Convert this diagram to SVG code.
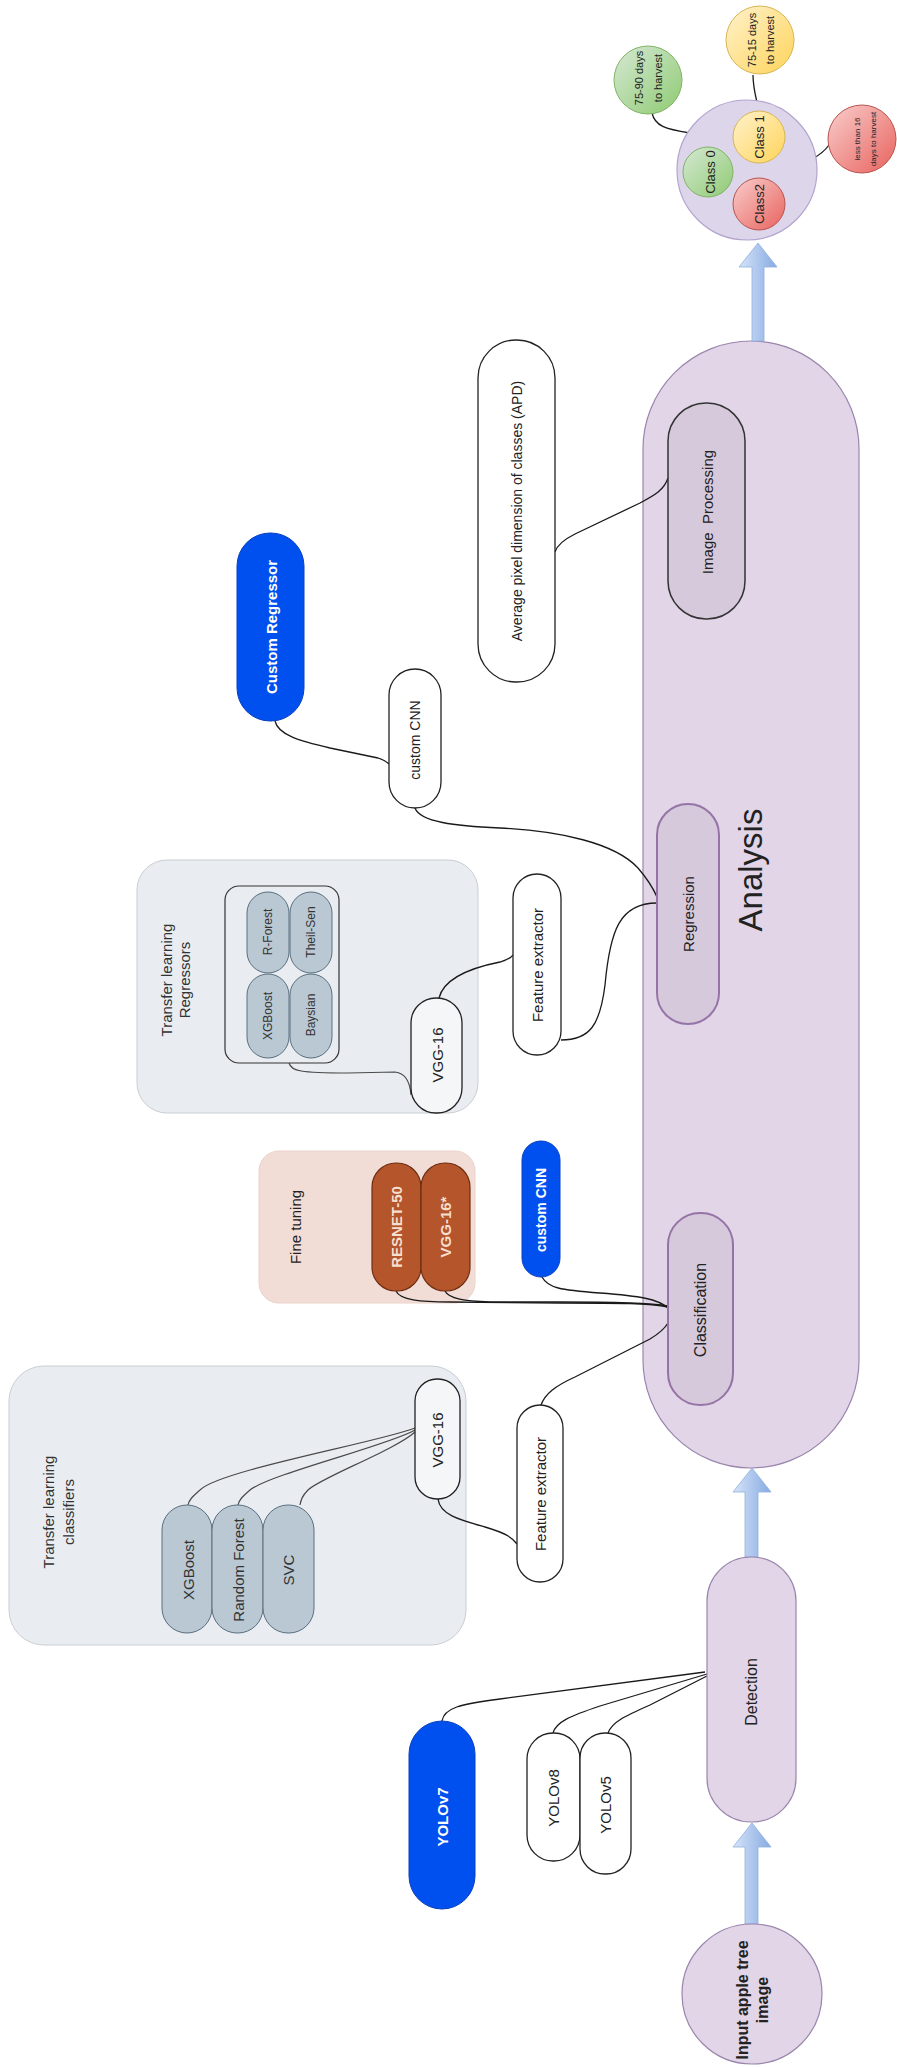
<svg xmlns="http://www.w3.org/2000/svg" width="897" height="2067" viewBox="0 0 897 2067">
<defs>
<linearGradient id="arr" x1="0" y1="0" x2="1" y2="0"><stop offset="0" stop-color="#d6e4f8"/><stop offset="1" stop-color="#86aae2"/></linearGradient>
<linearGradient id="gG" x1="0" y1="0" x2="1" y2="1"><stop offset="0" stop-color="#d5e8d4"/><stop offset="1" stop-color="#8fcb72"/></linearGradient>
<linearGradient id="gY" x1="0" y1="0" x2="1" y2="1"><stop offset="0" stop-color="#fff2cc"/><stop offset="1" stop-color="#ffd45a"/></linearGradient>
<linearGradient id="gR" x1="0" y1="0" x2="1" y2="1"><stop offset="0" stop-color="#f8cecc"/><stop offset="1" stop-color="#e9625e"/></linearGradient>
<style>
text{font-family:"Liberation Sans",Arial,sans-serif;text-anchor:middle;dominant-baseline:central;fill:#222}
.main{fill:#e1d5e7;stroke:#9a86ad;stroke-width:1.2}
.inner{fill:#d6c9dc;stroke:#9673a6;stroke-width:2}
.white{fill:#fff;stroke:#222;stroke-width:1.3}
.wbox{fill:#f4f6f8;stroke:#222;stroke-width:1.3}
.blue{fill:#0050ef;stroke:#0a3fc0;stroke-width:1}
.bt{fill:#fff;font-weight:bold}
.grp{fill:#e9edf1;stroke:#c9ced3;stroke-width:1}
.gp{fill:#bac8d3;stroke:#5a6e7e;stroke-width:1}
.gt{fill:#333}
.brown{fill:#b4552b;stroke:#6e2e12;stroke-width:1.2}
.brt{fill:#f6dfcf;font-weight:bold}
.arrow{fill:url(#arr);stroke:#8fb0de;stroke-width:0.8}
.c{fill:none;stroke:#1a1a1a;stroke-width:1.3}
.cg{fill:none;stroke:#4a4a4a;stroke-width:1.2}
</style>
</defs>
<rect width="897" height="2067" fill="#fff"/>

<!-- containers -->
<g id="analysis"><rect class="main" x="643" y="341" width="216" height="1127" rx="108"/>
<text x="750" y="870" font-size="33" transform="rotate(-90 750 870)">Analysis</text></g>
<g id="tl-classifiers"><rect class="grp" x="9" y="1366" width="457" height="279" rx="35"/>
<text class="gt" x="48" y="1512" font-size="15" transform="rotate(-90 48 1512)">Transfer learning</text>
<text class="gt" x="68" y="1512" font-size="15" transform="rotate(-90 68 1512)">classifiers</text></g>
<g id="tl-regressors"><rect class="grp" x="137" y="860" width="341" height="253" rx="30"/>
<text class="gt" x="166" y="980" font-size="15" transform="rotate(-90 166 980)">Transfer learning</text>
<text class="gt" x="184" y="980" font-size="15" transform="rotate(-90 184 980)">Regressors</text></g>
<g id="reg-set"><rect x="225" y="886" width="114" height="177" rx="14" fill="#e9edf1" stroke="#333" stroke-width="1.2"/></g>
<g id="fine-tuning"><rect x="259" y="1151" width="216" height="152" rx="20" fill="#f1ddd6" stroke="#ead2c9" stroke-width="1"/>
<text x="295" y="1227" font-size="15" transform="rotate(-90 295 1227)">Fine tuning</text></g>

<!-- connectors -->
<g id="connectors">
<path class="c" d="M442,1721 C444,1708 460,1704 500,1699 L705,1672"/>
<path class="c" d="M553,1733 C556,1722 570,1716 600,1706 L707,1674"/>
<path class="c" d="M608,1733 C612,1722 625,1716 650,1705 L707,1676"/>
<path class="c" d="M438,1499 C440,1515 460,1520 485,1527 C505,1533 512,1537 517,1544"/>
<path class="c" d="M541,1405 C545,1394 555,1386 575,1377 L650,1339 C660,1333 665,1328 668,1323"/>
<path class="c" d="M396,1291 C400,1300 420,1302 450,1302 L560,1303 C620,1303 650,1303 668,1307"/>
<path class="c" d="M445,1291 C449,1299 465,1301 490,1302 L560,1302 C620,1302 650,1303 668,1306"/>
<path class="c" d="M542,1277 C548,1288 560,1290 600,1293 C640,1296 658,1299 668,1308"/>
<path class="cg" d="M415,1428 C380,1442 220,1470 200,1490 C192,1497 189,1500 188,1505"/>
<path class="cg" d="M415,1430 C390,1445 270,1474 250,1490 C242,1497 239,1500 238,1505"/>
<path class="cg" d="M415,1432 C395,1450 320,1478 308,1490 C302,1496 301,1500 300,1505"/>
<path class="cg" d="M289,1063 C291,1071 300,1073 348,1073 L395,1072 C405,1073 410,1082 411,1095"/>
<path class="c" d="M439,998 C444,978 470,968 500,962 C507,960 511,958 513,955"/>
<path class="c" d="M561,1040 C590,1040 600,1025 605,985 C610,930 620,903 657,903"/>
<path class="c" d="M415,808 C420,822 455,826 500,828 C560,831 615,843 638,868 C650,882 654,890 657,897"/>
<path class="c" d="M275,721 C278,735 300,741 330,748 L378,758 C384,760 387,762 389,764"/>
<path class="c" d="M555,552 C557,545 563,540 575,534 L640,503 C655,495 664,490 668,478"/>
<path class="c" d="M652,113 C655,126 665,129 690,133 C702,136 708,140 710,147"/>
<path class="c" d="M753,75 C753,90 757,100 759,112"/>
<path class="c" d="M829,145 C820,158 800,165 787,170 C780,174 778,178 777,183"/>
<polygon class="arrow" points="745,1924 758,1924 758,1847 771,1847 752,1823 733,1847 745,1847"/>
<polygon class="arrow" points="745,1557 758,1557 758,1492 771,1492 752,1468 733,1492 745,1492"/>
<polygon class="arrow" points="752,341 764,341 764,267 777,267 758,243 739,267 752,267"/>
</g>

<!-- nodes -->
<g id="input"><ellipse class="main" cx="752" cy="1994" rx="70" ry="70"/>
<text x="742" y="2000" font-size="16" font-weight="bold" transform="rotate(-90 742 2000)">Input apple tree</text>
<text x="762" y="2000" font-size="16" font-weight="bold" transform="rotate(-90 762 2000)">image</text></g>
<g id="detection"><rect class="main" x="707" y="1557" width="89" height="265" rx="44"/>
<text x="751" y="1692" font-size="16" transform="rotate(-90 751 1692)">Detection</text></g>
<g id="yolov7"><rect class="blue" x="409" y="1721" width="66" height="188" rx="33"/>
<text class="bt" x="442" y="1817" font-size="15" transform="rotate(-90 442 1817)">YOLOv7</text></g>
<g id="yolov8"><rect class="white" x="527" y="1733" width="53" height="128" rx="26"/>
<text x="553" y="1798" font-size="15" transform="rotate(-90 553 1798)">YOLOv8</text></g>
<g id="yolov5"><rect class="white" x="580" y="1733" width="51" height="141" rx="25"/>
<text x="605" y="1805" font-size="15" transform="rotate(-90 605 1805)">YOLOv5</text></g>

<g id="cls-feature-extractor"><rect class="white" x="517" y="1405" width="46" height="177" rx="23"/>
<text x="540" y="1494" font-size="15" transform="rotate(-90 540 1494)">Feature extractor</text></g>
<g id="cls-vgg16"><rect class="wbox" x="415" y="1379" width="45" height="120" rx="22"/>
<text x="437" y="1440" font-size="15" transform="rotate(-90 437 1440)">VGG-16</text></g>
<g id="cls-xgboost"><rect class="gp" x="162" y="1505" width="50" height="128" rx="25"/>
<text class="gt" x="188" y="1570" font-size="15" transform="rotate(-90 188 1570)">XGBoost</text></g>
<g id="cls-rf"><rect class="gp" x="212" y="1505" width="51" height="128" rx="25"/>
<text class="gt" x="238" y="1570" font-size="15" transform="rotate(-90 238 1570)">Random Forest</text></g>
<g id="cls-svc"><rect class="gp" x="263" y="1505" width="51" height="128" rx="25"/>
<text class="gt" x="288" y="1570" font-size="15" transform="rotate(-90 288 1570)">SVC</text></g>

<g id="classification"><rect class="inner" x="668" y="1213" width="65" height="192" rx="32"/>
<text x="700" y="1310" font-size="16" transform="rotate(-90 700 1310)">Classification</text></g>
<g id="resnet50"><rect class="brown" x="372" y="1163" width="49" height="128" rx="24"/>
<text class="brt" x="396" y="1227" font-size="15" transform="rotate(-90 396 1227)">RESNET-50</text></g>
<g id="vgg16-ft"><rect class="brown" x="421" y="1163" width="49" height="128" rx="24"/>
<text class="brt" x="445" y="1227" font-size="15" transform="rotate(-90 445 1227)">VGG-16*</text></g>
<g id="cls-custom-cnn"><rect class="blue" x="522" y="1141" width="38" height="136" rx="19"/>
<text class="bt" x="541" y="1210" font-size="14" transform="rotate(-90 541 1210)">custom CNN</text></g>

<g id="reg-rforest"><rect class="gp" x="247" y="892" width="42" height="81" rx="21"/>
<text class="gt" x="268" y="932" font-size="12" transform="rotate(-90 268 932)">R-Forest</text></g>
<g id="reg-xgboost"><rect class="gp" x="247" y="974" width="42" height="84" rx="21"/>
<text class="gt" x="268" y="1016" font-size="12" transform="rotate(-90 268 1016)">XGBoost</text></g>
<g id="reg-theilsen"><rect class="gp" x="290" y="892" width="42" height="81" rx="21"/>
<text class="gt" x="311" y="932" font-size="12" transform="rotate(-90 311 932)">Theil-Sen</text></g>
<g id="reg-baysian"><rect class="gp" x="290" y="974" width="42" height="84" rx="21"/>
<text class="gt" x="311" y="1015" font-size="12" transform="rotate(-90 311 1015)">Baysian</text></g>
<g id="reg-vgg16"><rect class="wbox" x="411" y="998" width="51" height="115" rx="25"/>
<text x="437" y="1055" font-size="15" transform="rotate(-90 437 1055)">VGG-16</text></g>
<g id="reg-feature-extractor"><rect class="white" x="513" y="874" width="48" height="181" rx="24"/>
<text x="537" y="965" font-size="15" transform="rotate(-90 537 965)">Feature extractor</text></g>
<g id="regression"><rect class="inner" x="657" y="804" width="62" height="220" rx="31"/>
<text x="688" y="914" font-size="15" transform="rotate(-90 688 914)">Regression</text></g>
<g id="reg-custom-cnn"><rect class="white" x="389" y="669" width="52" height="139" rx="26"/>
<text x="415" y="740" font-size="14" transform="rotate(-90 415 740)">custom CNN</text></g>
<g id="custom-regressor"><rect class="blue" x="237" y="533" width="67" height="188" rx="33"/>
<text class="bt" x="271" y="627" font-size="15" transform="rotate(-90 271 627)">Custom Regressor</text></g>
<g id="apd"><rect class="white" x="478" y="340" width="77" height="342" rx="38"/>
<text x="517" y="511" font-size="14" transform="rotate(-90 517 511)">Average pixel dimension of classes (APD)</text></g>
<g id="image-processing"><rect x="668" y="403" width="77" height="216" rx="38" fill="#d6c9dc" stroke="#333" stroke-width="1.5"/>
<text x="707" y="512" font-size="15" transform="rotate(-90 707 512)" xml:space="preserve">Image  Processing</text></g>

<g id="output"><circle cx="747" cy="170" r="70" fill="#ddd5ea" stroke="#b3a4cf" stroke-width="1.2"/></g>
<g id="class0"><circle cx="708" cy="172" r="25" fill="url(#gG)" stroke="#82b366"/>
<text x="710" y="172" font-size="13" transform="rotate(-90 710 172)">Class 0</text></g>
<g id="class1"><circle cx="759" cy="137" r="26" fill="url(#gY)" stroke="#d6b656"/>
<text x="759" y="137" font-size="13" transform="rotate(-90 759 137)">Class 1</text></g>
<g id="class2"><circle cx="759" cy="204" r="26" fill="url(#gR)" stroke="#b85450"/>
<text x="759" y="204" font-size="13" transform="rotate(-90 759 204)">Class2</text></g>
<g id="days-75-90"><circle cx="648" cy="80" r="34" fill="url(#gG)" stroke="#82b366"/>
<text x="639" y="78" font-size="11" transform="rotate(-90 639 78)">75-90 days</text>
<text x="658" y="78" font-size="11" transform="rotate(-90 658 78)">to harvest</text></g>
<g id="days-75-15"><circle cx="760" cy="40" r="34" fill="url(#gY)" stroke="#d6b656"/>
<text x="752" y="40" font-size="11" transform="rotate(-90 752 40)">75-15 days</text>
<text x="770" y="40" font-size="11" transform="rotate(-90 770 40)">to harvest</text></g>
<g id="days-lt16"><circle cx="862" cy="139" r="34" fill="url(#gR)" stroke="#b85450"/>
<text x="857" y="139" font-size="8" fill="#8a3a36" transform="rotate(-90 857 139)">less than 16</text>
<text x="873" y="139" font-size="8" fill="#8a3a36" transform="rotate(-90 873 139)">days to harvest</text></g>
</svg>
